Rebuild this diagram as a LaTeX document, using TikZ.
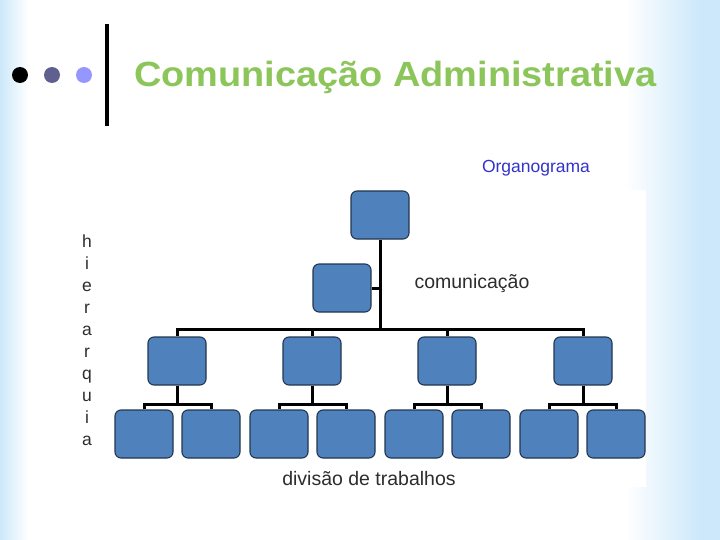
\documentclass[tikz,border=0pt]{standalone}
\usepackage{fontspec}
\setmainfont{Liberation Sans}
\definecolor{titlegreen}{RGB}{140,198,90}
\definecolor{boxblue}{RGB}{79,129,189}
\definecolor{boxedge}{RGB}{35,55,80}
\definecolor{skyblue}{RGB}{204,232,250}
\definecolor{orgblue}{RGB}{51,51,204}
\definecolor{dotmid}{RGB}{96,96,144}
\definecolor{dotlight}{RGB}{150,150,255}
\definecolor{labelgray}{RGB}{45,45,45}
\begin{document}
\begin{tikzpicture}[x=1pt,y=-1pt,
  orgbox/.style={draw=boxedge,line width=1.1pt,fill=boxblue,rounded corners=6pt,minimum width=58pt,minimum height=48pt,inner sep=0pt},
  conn/.style={line width=3pt,black},
  lbl/.style={font=\fontsize{19.5}{22}\selectfont,text=labelgray,inner sep=0pt,anchor=base}]
\useasboundingbox (0,0) rectangle (720,540);
% background
\fill[white] (0,0) rectangle (720,540);
\shade[left color=skyblue,right color=white] (0,0) rectangle (28,540);
\shade[left color=white,right color=skyblue] (625,0) rectangle (700,540);
\fill[skyblue] (700,0) rectangle (720,540);
\fill[white] (115,190) rectangle (646,487);
% header
\fill[black] (20,75) circle (8);
\fill[dotmid] (52,75) circle (8);
\fill[dotlight] (84,75) circle (8);
\draw[line width=4pt] (107,24) -- (107,126);
\node[anchor=base west,inner sep=0pt,text=titlegreen,font=\bfseries\fontsize{35}{40}\selectfont] (title) at (134,87) {\scalebox{1.083}[1]{Comunicação Administrativa}};
\node[text=orgblue,font=\fontsize{17.5}{20}\selectfont,inner sep=0pt,anchor=base] (org) at (536,173) {Organograma};
% vertical word
\node[anchor=north,align=center,inner sep=0pt,font=\fontsize{17.5}{22}\selectfont,text=labelgray] (hier) at (87,235) {h\\i\\e\\r\\a\\r\\q\\u\\i\\a};
% boxes
\node[orgbox] (top) at (380,215) {};
\node[orgbox] (com) at (342,288) {};
\node[orgbox] (a1) at (177,361) {};
\node[orgbox] (a2) at (312,361) {};
\node[orgbox] (a3) at (447,361) {};
\node[orgbox] (a4) at (583,361) {};
\node[orgbox] (b11) at (144,434) {};
\node[orgbox] (b12) at (211,434) {};
\node[orgbox] (b21) at (279,434) {};
\node[orgbox] (b22) at (346,434) {};
\node[orgbox] (b31) at (414,434) {};
\node[orgbox] (b32) at (481,434) {};
\node[orgbox] (b41) at (549,434) {};
\node[orgbox] (b42) at (616,434) {};
% junctions
\coordinate (j0) at (380,329);
\coordinate (s1) at (177,404);
\coordinate (s2) at (312,404);
\coordinate (s3) at (447,404);
\coordinate (s4) at (583,404);
% connectors
\draw[conn] (top.south) -- (j0);
\draw[conn] (com.east) -- (com.east -| j0);
\draw[conn] (a1.north) |- (j0) -| (a4.north);
\draw[conn] (a2.north) -- (a2.north |- j0);
\draw[conn] (a3.north) -- (a3.north |- j0);
\foreach \i in {1,2,3,4}{
  \draw[conn] (a\i.south) -- (s\i);
  \draw[conn] (b\i1.north) |- (s\i) -| (b\i2.north);
}
% labels
\node[lbl] (comlbl) at (472,288) {comunicação};
\node[lbl] (divlbl) at (369,485) {divisão de trabalhos};
\end{tikzpicture}
\end{document}
